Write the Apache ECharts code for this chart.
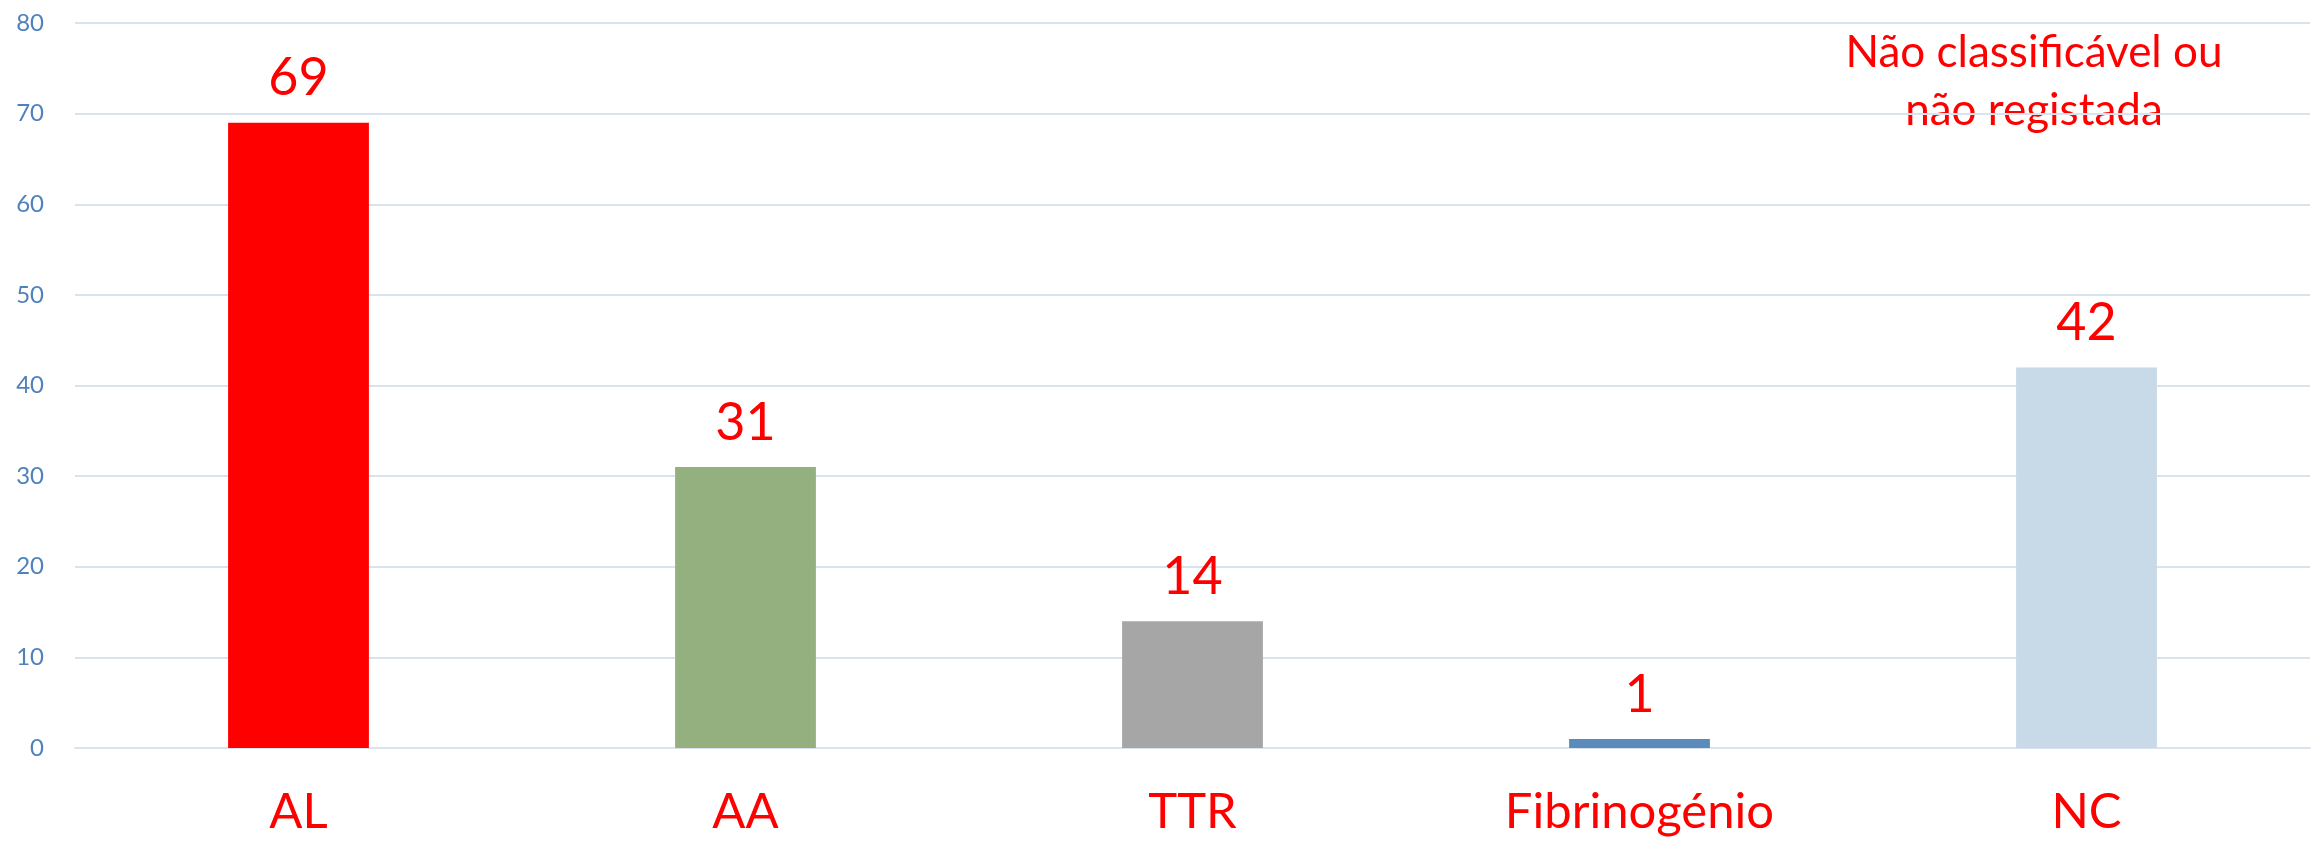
<!DOCTYPE html>
<html>
<head>
<meta charset="utf-8">
<script src="https://cdn.jsdelivr.net/npm/echarts@6/dist/echarts.min.js"></script>
<style>
  html, body { margin: 0; padding: 0; background: #ffffff; }
  #chart { width: 2323px; height: 845px; }
</style>
</head>
<body>
<div id="chart"></div>
<script>
const categories = ['AL', 'AA', 'TTR', 'Fibrinogénio', 'NC'];
const values = [69, 31, 14, 1, 42];
const barColors = ['#ff0000', '#95b07f', '#a6a6a6', '#5b8bb9', '#c8d9e8'];
const yTicks = [0, 10, 20, 30, 40, 50, 60, 70, 80];
const noteLines = ['Não classificável ou', 'não registada'];

const FONT = 'Lato, "Open Sans", sans-serif';
const chart = echarts.init(document.getElementById('chart'), null, { renderer: 'canvas' });

chart.setOption({
  animation: false,
  backgroundColor: '#ffffff',
  grid: { left: 75, right: 13, top: 23, bottom: 97, containLabel: false },
  xAxis: {
    type: 'category',
    data: categories,
    axisLine: { show: true, lineStyle: { color: '#d9e3ef', width: 2 } },
    axisTick: { show: false },
    axisLabel: { color: '#ff0000', fontSize: 49, fontFamily: FONT, margin: 40 }
  },
  yAxis: {
    type: 'value',
    min: yTicks[0],
    max: yTicks[yTicks.length - 1],
    interval: yTicks[1] - yTicks[0],
    axisLine: { show: false },
    axisTick: { show: false },
    splitLine: { show: true, lineStyle: { color: '#d9e3ef', width: 2 } },
    axisLabel: { color: '#4f81bd', fontSize: 24, fontFamily: FONT, margin: 31 }
  },
  series: [{
    type: 'bar',
    barWidth: '31.5%',
    data: values.map((v, i) => ({ value: v, itemStyle: { color: barColors[i] } })),
    label: {
      show: true,
      position: 'top',
      distance: 18,
      color: '#ff0000',
      fontSize: 52,
      fontFamily: FONT
    }
  }],
  graphic: [{
    type: 'text',
    x: 2034,
    y: 24,
    style: {
      text: noteLines.join('\n'),
      fill: '#ff0000',
      font: '44px ' + FONT,
      align: 'center',
      verticalAlign: 'top',
      lineHeight: 58
    }
  }]
});
</script>
</body>
</html>
